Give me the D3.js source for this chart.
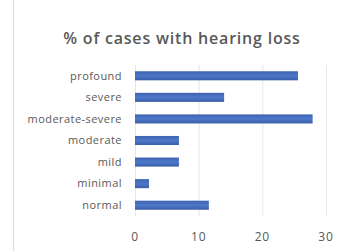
<!DOCTYPE html>
<html>
<head>
<meta charset="utf-8">
<script src="https://d3js.org/d3.v7.min.js"></script>
<style>
  html, body { margin: 0; padding: 0; background: #fff; }
  text { font-family: "Open Sans", sans-serif; fill: #595959; }
</style>
</head>
<body>
<div id="chart"></div>
<script>
// Données
const categories = ["profound", "severe", "moderate-severe", "moderate", "mild", "minimal", "normal"];
const values = [25.6, 14.0, 27.9, 6.9, 6.9, 2.2, 11.6];
const ticks = [0, 10, 20, 30];
const title = "% of cases with hearing loss";

const width = 340;
const height = 251;

const svg = d3.select("#chart")
  .append("svg")
  .attr("width", width)
  .attr("height", height);

// Dégradé des barres
const grad = svg.append("defs").append("linearGradient")
  .attr("id", "barGrad")
  .attr("x1", 0).attr("y1", 0).attr("x2", 0).attr("y2", 1);
grad.append("stop").attr("offset", "0%").attr("stop-color", "#3d63b0");
grad.append("stop").attr("offset", "50%").attr("stop-color", "#4d78c8");
grad.append("stop").attr("offset", "100%").attr("stop-color", "#3a5ea8");

// Bordure gauche du cadre
svg.append("line")
  .attr("x1", 13.5).attr("x2", 13.5)
  .attr("y1", 0).attr("y2", height)
  .attr("stroke", "#d9d9d9");

const x = d3.scaleLinear().domain([0, 30]).range([135, 326]);
const y = d3.scaleBand().domain(categories).range([65, 216]).paddingInner(0.58).paddingOuter(0.29);

// Grille
svg.append("g")
  .selectAll("line")
  .data(ticks)
  .join("line")
  .attr("x1", (d) => x(d) + 0.5)
  .attr("x2", (d) => x(d) + 0.5)
  .attr("y1", 65)
  .attr("y2", 216)
  .attr("stroke", "#e6e6e6");

// Barres
svg.append("g")
  .selectAll("rect")
  .data(values)
  .join("rect")
  .attr("x", x(0))
  .attr("y", (d, i) => y(categories[i]))
  .attr("width", (d) => x(d) - x(0))
  .attr("height", y.bandwidth())
  .attr("fill", "url(#barGrad)");

// Libellés des catégories
svg.append("g")
  .selectAll("text")
  .data(categories)
  .join("text")
  .attr("x", 122)
  .attr("y", (d) => y(d) + y.bandwidth() / 2)
  .attr("dy", "0.35em")
  .attr("text-anchor", "end")
  .style("font-size", "11px")
  .style("letter-spacing", "0.45px")
  .text((d) => d);

// Axe des x
svg.append("g")
  .selectAll("text")
  .data(ticks)
  .join("text")
  .attr("x", (d) => x(d))
  .attr("y", 237)
  .attr("dy", "0.35em")
  .attr("text-anchor", "middle")
  .style("font-size", "12px")
  .style("letter-spacing", "0.8px")
  .text((d) => d);

// Titre
svg.append("text")
  .attr("x", 182)
  .attr("y", 38)
  .attr("dy", "0.35em")
  .attr("text-anchor", "middle")
  .style("font-size", "16px")
  .style("font-weight", "600")
  .style("letter-spacing", "0.8px")
  .text(title);
</script>
</body>
</html>
